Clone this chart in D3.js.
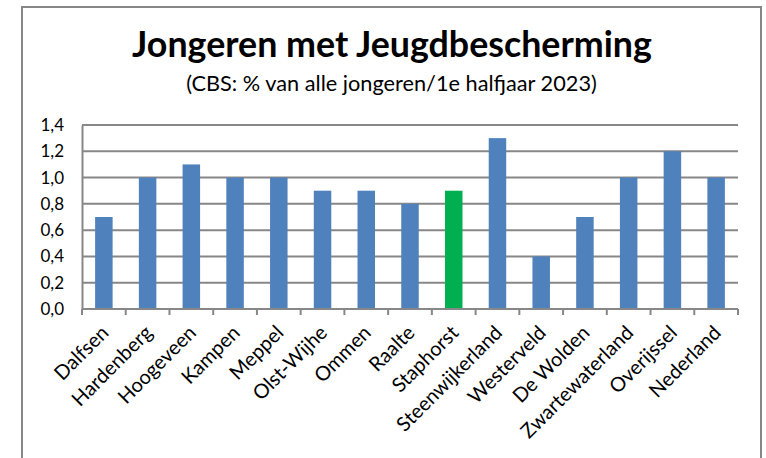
<!DOCTYPE html>
<html>
<head>
<meta charset="utf-8">
<script src="https://cdn.jsdelivr.net/npm/d3@7"></script>
<style>
  html, body { margin: 0; padding: 0; background: #fff; }
  svg { display: block; }
</style>
</head>
<body>
<svg id="chart" width="766" height="458"></svg>
<script>
const categories = ["Dalfsen", "Hardenberg", "Hoogeveen", "Kampen", "Meppel", "Olst-Wijhe", "Ommen", "Raalte", "Staphorst", "Steenwijkerland", "Westerveld", "De Wolden", "Zwartewaterland", "Overijssel", "Nederland"];
const values = [0.7, 1.0, 1.1, 1.0, 1.0, 0.9, 0.9, 0.8, 0.9, 1.3, 0.4, 0.7, 1.0, 1.2, 1.0];
const highlighted = ["Staphorst"];
const yTicks = [0, 0.2, 0.4, 0.6, 0.8, 1.0, 1.2, 1.4];
const title = "Jongeren met Jeugdbescherming";
const subtitle = "(CBS: % van alle jongeren/1e halfjaar 2023)";

const svg = d3.select("#chart");
const font = "Lato, 'Open Sans', sans-serif";
const gray = "#878787";

// outer frame
svg.append("rect")
  .attr("x", 22).attr("y", 7).attr("width", 739).attr("height", 470)
  .attr("fill", "#fff").attr("stroke", gray).attr("stroke-width", 2);

const plot = { left: 82, right: 738, top: 125, bottom: 309 };

const x = d3.scaleBand().domain(categories).range([plot.left, plot.right]).paddingInner(0.6).paddingOuter(0.3);
const y = d3.scaleLinear().domain([0, 1.4]).range([plot.bottom, plot.top]);

function fitText(sel, targetWidth) {
  const node = sel.node();
  let fs = parseFloat(sel.attr("font-size"));
  const w = node.getComputedTextLength();
  if (w > 0) sel.attr("font-size", fs * targetWidth / w);
}

const t = svg.append("text")
  .attr("x", 392).attr("y", 57)
  .attr("text-anchor", "middle")
  .attr("font-family", font).attr("font-weight", "bold")
  .attr("font-size", 32).attr("fill", "#000")
  .text(title);
fitText(t, 520);

const st = svg.append("text")
  .attr("x", 391.5).attr("y", 91)
  .attr("text-anchor", "middle")
  .attr("font-family", font)
  .attr("font-size", 19).attr("fill", "#000")
  .text(subtitle);
fitText(st, 411);

// gridlines
svg.append("g")
  .selectAll("line").data(yTicks).join("line")
  .attr("x1", plot.left).attr("x2", plot.right)
  .attr("y1", d => y(d)).attr("y2", d => y(d))
  .attr("stroke", gray).attr("stroke-width", 2);

// y axis
const yAxis = svg.append("g")
  .attr("transform", `translate(${plot.left},0)`)
  .call(d3.axisLeft(y).tickValues(yTicks).tickSize(0).tickPadding(18)
    .tickFormat(d => d3.format(".1f")(d).replace(".", ",")));
yAxis.select(".domain").attr("stroke", gray).attr("stroke-width", 2);
yAxis.selectAll("text").attr("font-family", font).attr("font-size", 17).attr("fill", "#000");

// bars
svg.append("g")
  .selectAll("rect").data(categories).join("rect")
  .attr("x", d => x(d))
  .attr("width", x.bandwidth())
  .attr("y", (d, i) => y(values[i]))
  .attr("height", (d, i) => y(0) - y(values[i]))
  .attr("fill", d => highlighted.includes(d) ? "#00B050" : "#4F81BD");

// x axis
const tickPositions = d3.range(categories.length + 1).map(i => plot.left + i * (plot.right - plot.left) / categories.length);
const xg = svg.append("g");
xg.append("line")
  .attr("x1", plot.left).attr("x2", plot.right)
  .attr("y1", plot.bottom).attr("y2", plot.bottom)
  .attr("stroke", gray).attr("stroke-width", 2);
xg.selectAll("line.tick").data(tickPositions).join("line")
  .attr("class", "tick")
  .attr("x1", d => d).attr("x2", d => d)
  .attr("y1", plot.bottom).attr("y2", plot.bottom + 6)
  .attr("stroke", gray).attr("stroke-width", 2);

xg.selectAll("text").data(categories).join("text")
  .attr("transform", d => `translate(${x(d) + x.bandwidth() / 2 + 6},${plot.bottom + 25}) rotate(-45)`)
  .attr("text-anchor", "end")
  .attr("font-family", font).attr("font-size", 20).attr("fill", "#000")
  .text(d => d);
</script>
</body>
</html>
